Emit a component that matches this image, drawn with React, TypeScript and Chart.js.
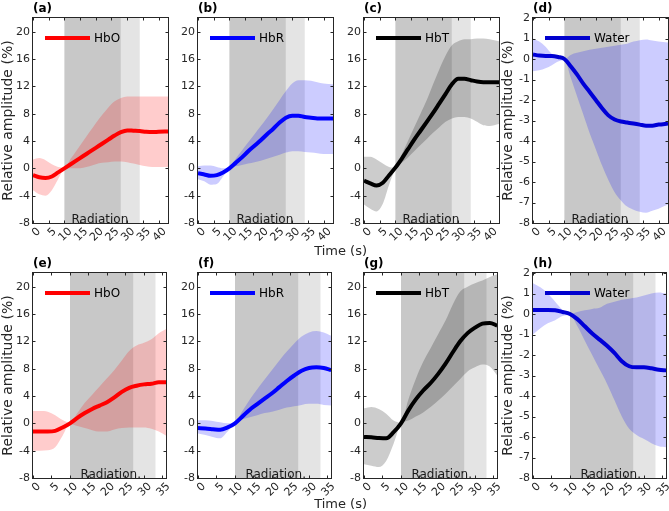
import { useEffect, useRef } from 'react';
import { Chart, registerables } from 'chart.js';

Chart.register(...registerables);

// ---- time axes (s) ----
const TIME_RUN1 = [0, 2, 4, 6, 8, 10, 12, 14, 16, 18, 20, 22, 24, 26, 28, 30, 32, 34, 36, 38, 40, 43];
const TIME_RUN2 = [0, 2, 4, 6, 8, 10, 12, 14, 16, 18, 20, 22, 24, 26, 28, 30, 32, 34, 36];

const X_TICKS_RUN1 = [0, 5, 10, 15, 20, 25, 30, 35, 40];
const X_TICKS_RUN2 = [0, 5, 10, 15, 20, 25, 30, 35];
const Y_TICKS_HB = [-8, -4, 0, 4, 8, 12, 16, 20];
const Y_TICKS_WATER = [-8, -7, -6, -5, -4, -3, -2, -1, 0, 1, 2];

// radiation on / post-radiation windows (s)
const RADIATION_RUN1 = [10, 28];
const POST_RUN1 = [28, 34];
const RADIATION_RUN2 = [10, 27.2];
const POST_RUN2 = [27.2, 33.1];

// ---- run 1 ----
const HBO1_MEAN = [-1.0, -1.3, -1.4, -1.2, -0.6, 0.0, 0.6, 1.2, 1.8, 2.4, 3.0, 3.6, 4.2, 4.8, 5.3, 5.55, 5.5, 5.45, 5.35, 5.3, 5.35, 5.4];
const HBO1_UPPER = [1.3, 1.5, 1.2, 0.6, 0.2, 0.1, 1.4, 2.7, 4.0, 5.3, 6.6, 7.8, 8.9, 9.8, 10.3, 10.5, 10.5, 10.5, 10.5, 10.5, 10.5, 10.5];
const HBO1_LOWER = [-3.2, -3.8, -4.0, -3.2, -1.6, -0.1, 0.0, 0.0, 0.1, 0.3, 0.6, 0.8, 0.9, 1.0, 1.0, 0.9, 0.7, 0.5, 0.3, 0.2, 0.2, 0.2];

const HBR1_MEAN = [-0.7, -0.9, -1.1, -1.0, -0.6, 0.0, 0.8, 1.6, 2.5, 3.3, 4.1, 5.0, 5.8, 6.7, 7.4, 7.7, 7.7, 7.5, 7.4, 7.3, 7.3, 7.3];
const HBR1_UPPER = [0.3, 0.4, 0.4, 0.2, 0.0, 0.1, 1.4, 2.6, 3.8, 5.0, 6.2, 7.4, 8.7, 10.0, 11.3, 12.4, 12.9, 12.9, 12.8, 12.6, 12.4, 12.3];
const HBR1_LOWER = [-1.6, -1.9, -2.4, -2.3, -1.2, 0.0, 0.3, 0.5, 0.7, 0.9, 1.1, 1.4, 1.7, 2.0, 2.3, 2.5, 2.5, 2.4, 2.3, 2.2, 2.1, 2.1];

const HBT1_MEAN = [-1.8, -2.2, -2.5, -2.1, -1.0, 0.1, 1.4, 2.8, 4.2, 5.5, 6.8, 8.1, 9.5, 10.9, 12.3, 13.1, 13.1, 12.9, 12.7, 12.6, 12.6, 12.6];
const HBT1_UPPER = [1.7, 1.7, 1.3, 0.7, 0.2, 0.1, 2.0, 4.0, 6.0, 8.0, 10.0, 12.3, 14.5, 16.5, 18.0, 18.6, 18.9, 18.9, 19.0, 19.0, 18.9, 18.6];
const HBT1_LOWER = [-5.3, -5.9, -6.3, -5.2, -2.4, -0.1, 0.8, 1.6, 2.5, 3.4, 4.3, 5.2, 6.0, 6.8, 7.3, 7.5, 7.5, 7.3, 6.8, 6.3, 6.2, 6.5];

const WATER1_MEAN = [0.22, 0.17, 0.15, 0.15, 0.1, 0.0, -0.35, -0.75, -1.2, -1.6, -2.0, -2.4, -2.75, -2.95, -3.05, -3.1, -3.15, -3.2, -3.25, -3.25, -3.2, -3.15];
const WATER1_UPPER = [1.0, 0.85, 0.6, 0.25, 0.05, 0.0, 0.2, 0.3, 0.38, 0.45, 0.5, 0.55, 0.6, 0.65, 0.7, 0.75, 0.85, 0.92, 0.95, 0.9, 0.85, 0.8];
const WATER1_LOWER = [-0.6, -0.55, -0.45, -0.3, -0.12, -0.05, -0.9, -1.8, -2.7, -3.6, -4.4, -5.2, -5.9, -6.5, -6.9, -7.2, -7.35, -7.45, -7.5, -7.4, -7.3, -7.1];

// ---- run 2 ----
const HBO2_MEAN = [-1.2, -1.2, -1.2, -1.1, -0.6, 0.0, 0.8, 1.5, 2.1, 2.6, 3.1, 3.8, 4.6, 5.2, 5.5, 5.7, 5.8, 6.0, 6.0];
const HBO2_UPPER = [1.8, 1.8, 1.7, 1.2, 0.5, 0.1, 1.5, 3.0, 4.2, 5.4, 6.6, 7.8, 9.2, 10.6, 11.4, 11.8, 12.3, 13.2, 13.8];
const HBO2_LOWER = [-4.0, -4.0, -3.95, -3.5, -1.8, -0.1, -0.4, -0.7, -1.0, -1.2, -1.2, -0.9, -0.7, -0.6, -0.6, -0.6, -0.8, -1.2, -1.8];

const HBR2_MEAN = [-0.7, -0.75, -0.85, -0.95, -0.6, 0.0, 1.0, 2.0, 2.8, 3.6, 4.4, 5.3, 6.2, 7.0, 7.7, 8.1, 8.2, 8.1, 7.8];
const HBR2_UPPER = [0.45, 0.45, 0.35, 0.15, 0.0, 0.1, 1.8, 3.5, 5.0, 6.4, 7.8, 9.2, 10.5, 11.7, 12.7, 13.3, 13.5, 13.3, 12.8];
const HBR2_LOWER = [-1.5, -1.7, -2.0, -2.2, -1.2, 0.0, 0.6, 0.9, 1.2, 1.5, 1.7, 2.0, 2.3, 2.5, 2.7, 2.85, 2.85, 2.7, 2.6];

const HBT2_MEAN = [-2.0, -2.05, -2.15, -2.2, -1.3, 0.0, 1.9, 3.5, 4.8, 5.9, 7.2, 8.7, 10.4, 12.0, 13.2, 14.0, 14.6, 14.7, 14.3];
const HBT2_UPPER = [2.2, 2.4, 2.1, 1.4, 0.4, 0.1, 3.5, 6.5, 9.0, 11.0, 13.0, 15.0, 17.4, 19.3, 20.0, 20.5, 20.9, 21.4, 21.8];
const HBT2_LOWER = [-6.0, -6.2, -6.4, -5.5, -3.0, -0.1, 0.4, 1.0, 1.6, 2.4, 3.3, 4.3, 5.4, 6.5, 7.6, 8.2, 8.6, 8.3, 7.0];

const WATER2_MEAN = [0.2, 0.2, 0.2, 0.18, 0.1, 0.0, -0.25, -0.6, -0.95, -1.25, -1.55, -1.9, -2.3, -2.55, -2.6, -2.6, -2.65, -2.72, -2.75];
const WATER2_UPPER = [1.5, 1.3, 1.0, 0.6, 0.2, 0.0, 0.1, 0.18, 0.25, 0.3, 0.5, 0.6, 0.7, 0.75, 0.8, 0.9, 1.0, 1.05, 1.0];
const WATER2_LOWER = [-1.0, -0.7, -0.45, -0.3, -0.1, -0.05, -0.6, -1.3, -2.0, -2.7, -3.4, -4.2, -5.0, -5.6, -5.9, -6.1, -6.3, -6.45, -6.5];

// ---- styling ----
const FONT = "'DejaVu Sans', sans-serif";
const AXIS_COLOR = '#262626';
const SHADE_ON = 'rgb(200,200,200)';
const SHADE_POST = 'rgb(228,228,228)';

const SERIES = {
  HbO: { line: 'rgb(255,0,0)', band: 'rgba(255,0,0,0.2)' },
  HbR: { line: 'rgb(0,0,255)', band: 'rgba(0,0,255,0.2)' },
  HbT: { line: 'rgb(0,0,0)', band: 'rgba(0,0,0,0.2)' },
  Water: { line: 'rgb(0,0,205)', band: 'rgba(0,0,255,0.2)' },
};

// plot-box geometry
const COL_LEFT = [33, 198, 364, 533];
const ROW_TOP = [18, 273];
const BOX_W = 135;
const BOX_H = 205;
const Y_AXIS_W = 33;
const X_AXIS_H = 32;
const PAD_TOP = 18;
const PAD_RIGHT = 6;

type PanelDef = {
  tag: string;
  name: keyof typeof SERIES;
  row: number;
  col: number;
  time: number[];
  mean: number[];
  upper: number[];
  lower: number[];
  xMax: number;
  xTicks: number[];
  yMin: number;
  yMax: number;
  yTicks: number[];
  radiation: number[];
  post: number[];
  radiationText: string;
  radiationX: number;
  yLabel: boolean;
};

const run1 = { row: 0, time: TIME_RUN1, xMax: 43, xTicks: X_TICKS_RUN1, radiation: RADIATION_RUN1, post: POST_RUN1, radiationText: 'Radiation', radiationX: 21.3 };
const run2 = { row: 1, time: TIME_RUN2, xMax: 36, xTicks: X_TICKS_RUN2, radiation: RADIATION_RUN2, post: POST_RUN2, radiationText: 'Radiation.', radiationX: 21.0 };
const hbAxis = { yMin: -8, yMax: 22, yTicks: Y_TICKS_HB };
const waterAxis = { yMin: -8, yMax: 2, yTicks: Y_TICKS_WATER };

const PANELS: PanelDef[] = [
  { ...run1, ...hbAxis, tag: '(a)', name: 'HbO', col: 0, mean: HBO1_MEAN, upper: HBO1_UPPER, lower: HBO1_LOWER, yLabel: true },
  { ...run1, ...hbAxis, tag: '(b)', name: 'HbR', col: 1, mean: HBR1_MEAN, upper: HBR1_UPPER, lower: HBR1_LOWER, yLabel: false },
  { ...run1, ...hbAxis, tag: '(c)', name: 'HbT', col: 2, mean: HBT1_MEAN, upper: HBT1_UPPER, lower: HBT1_LOWER, yLabel: false },
  { ...run1, ...waterAxis, tag: '(d)', name: 'Water', col: 3, mean: WATER1_MEAN, upper: WATER1_UPPER, lower: WATER1_LOWER, yLabel: true },
  { ...run2, ...hbAxis, tag: '(e)', name: 'HbO', col: 0, mean: HBO2_MEAN, upper: HBO2_UPPER, lower: HBO2_LOWER, yLabel: true },
  { ...run2, ...hbAxis, tag: '(f)', name: 'HbR', col: 1, mean: HBR2_MEAN, upper: HBR2_UPPER, lower: HBR2_LOWER, yLabel: false },
  { ...run2, ...hbAxis, tag: '(g)', name: 'HbT', col: 2, mean: HBT2_MEAN, upper: HBT2_UPPER, lower: HBT2_LOWER, yLabel: false },
  { ...run2, ...waterAxis, tag: '(h)', name: 'Water', col: 3, mean: WATER2_MEAN, upper: WATER2_UPPER, lower: WATER2_LOWER, yLabel: true },
];

const xy = (t: number[], v: number[]) => t.map((x, i) => ({ x, y: v[i] }));

// shaded windows, legend, in-box text, frame and inward ticks
const panelDecor = {
  id: 'panelDecor',
  beforeDatasetsDraw(chart: any, _args: any, opts: any) {
    const { ctx, chartArea } = chart;
    const x = chart.scales.x;
    ctx.save();
    const spans: [number[], string][] = [[opts.radiation, SHADE_ON], [opts.post, SHADE_POST]];
    for (const [span, color] of spans) {
      const x0 = x.getPixelForValue(span[0]);
      const x1 = x.getPixelForValue(span[1]);
      ctx.fillStyle = color;
      ctx.fillRect(x0, chartArea.top, x1 - x0, chartArea.bottom - chartArea.top);
    }
    ctx.restore();
  },
  afterDatasetsDraw(chart: any, _args: any, opts: any) {
    const { ctx, chartArea } = chart;
    const { left, top, right, bottom } = chartArea;
    const x = chart.scales.x;
    const y = chart.scales.y;
    ctx.save();

    // legend (no frame)
    const ly = top + 20;
    ctx.strokeStyle = opts.lineColor;
    ctx.lineWidth = 4;
    ctx.beginPath();
    ctx.moveTo(left + 12, ly);
    ctx.lineTo(left + 57, ly);
    ctx.stroke();
    ctx.fillStyle = '#000';
    ctx.font = `12px ${FONT}`;
    ctx.textAlign = 'left';
    ctx.textBaseline = 'middle';
    ctx.fillText(opts.name, left + 61, ly + 0.5);

    // radiation label on the floor of the box
    ctx.textAlign = 'center';
    ctx.textBaseline = 'alphabetic';
    ctx.fillStyle = '#1a1a1a';
    ctx.fillText(opts.radiationText, x.getPixelForValue(opts.radiationX), bottom - 0.5);

    // frame
    const L = Math.round(left) - 0.5;
    const R = Math.round(right) + 0.5;
    const T = Math.round(top) - 0.5;
    const B = Math.round(bottom) + 0.5;
    ctx.strokeStyle = AXIS_COLOR;
    ctx.lineWidth = 1;
    ctx.strokeRect(L, T, R - L, B - T);

    // inward ticks on all four sides
    const tl = 3;
    ctx.beginPath();
    for (const v of opts.xTicks) {
      const px = Math.round(x.getPixelForValue(v)) + 0.5;
      ctx.moveTo(px, B);
      ctx.lineTo(px, B - tl);
      ctx.moveTo(px, T);
      ctx.lineTo(px, T + tl);
    }
    for (const v of opts.yTicks) {
      const py = Math.round(y.getPixelForValue(v)) + 0.5;
      ctx.moveTo(L, py);
      ctx.lineTo(L + tl, py);
      ctx.moveTo(R, py);
      ctx.lineTo(R - tl, py);
    }
    ctx.stroke();

    // panel tag
    ctx.fillStyle = '#000';
    ctx.font = `bold 12px ${FONT}`;
    ctx.textAlign = 'left';
    ctx.textBaseline = 'alphabetic';
    ctx.fillText(opts.tag, left, top - 6);

    ctx.restore();
  },
};

const CANVAS_W = Y_AXIS_W + BOX_W + PAD_RIGHT;
const CANVAS_H = PAD_TOP + BOX_H + X_AXIS_H;

function Panel({ p }: { p: PanelDef }) {
  const ref = useRef<HTMLCanvasElement | null>(null);

  useEffect(() => {
    const style = SERIES[p.name];
    const tickFont = { family: FONT, size: 11 };
    const chart = new Chart(ref.current as HTMLCanvasElement, {
      type: 'line',
      data: {
        datasets: [
          {
            data: xy(p.time, p.upper),
            borderColor: 'rgba(0,0,0,0)',
            borderWidth: 0,
            backgroundColor: style.band,
            fill: '+1',
            pointRadius: 0,
            cubicInterpolationMode: 'monotone',
          },
          {
            data: xy(p.time, p.lower),
            borderColor: 'rgba(0,0,0,0)',
            borderWidth: 0,
            fill: false,
            pointRadius: 0,
            cubicInterpolationMode: 'monotone',
          },
          {
            data: xy(p.time, p.mean),
            borderColor: style.line,
            borderWidth: 4,
            fill: false,
            pointRadius: 0,
            cubicInterpolationMode: 'monotone',
          },
        ],
      },
      options: {
        responsive: false,
        animation: false,
        devicePixelRatio: 1,
        events: [],
        layout: { padding: { left: 0, top: PAD_TOP, right: PAD_RIGHT, bottom: 0 } },
        plugins: {
          legend: { display: false },
          tooltip: { enabled: false },
          title: { display: false },
          panelDecor: {
            tag: p.tag,
            name: p.name,
            lineColor: style.line,
            radiation: p.radiation,
            post: p.post,
            radiationText: p.radiationText,
            radiationX: p.radiationX,
            xTicks: p.xTicks,
            yTicks: p.yTicks,
          },
        } as any,
        scales: {
          x: {
            type: 'linear',
            min: 0,
            max: p.xMax,
            afterBuildTicks: (s: any) => {
              s.ticks = p.xTicks.map((value) => ({ value }));
            },
            afterFit: (s: any) => {
              s.height = X_AXIS_H;
            },
            grid: { display: false, drawTicks: false },
            border: { display: false },
            ticks: {
              autoSkip: false,
              minRotation: 45,
              maxRotation: 45,
              padding: 2,
              labelOffset: 6,
              color: AXIS_COLOR,
              font: tickFont,
              callback: (v: any) => String(v),
            },
          },
          y: {
            type: 'linear',
            min: p.yMin,
            max: p.yMax,
            afterBuildTicks: (s: any) => {
              s.ticks = p.yTicks.map((value) => ({ value }));
            },
            afterFit: (s: any) => {
              s.width = Y_AXIS_W;
            },
            grid: { display: false, drawTicks: false },
            border: { display: false },
            ticks: {
              padding: 3,
              color: AXIS_COLOR,
              font: tickFont,
              callback: (v: any) => String(v),
            },
            title: {
              display: p.yLabel,
              text: 'Relative amplitude (%)',
              color: AXIS_COLOR,
              font: { family: FONT, size: 14 },
              padding: { top: 0, bottom: 0 },
            },
          },
        },
      },
      plugins: [panelDecor],
    });
    return () => chart.destroy();
  }, [p]);

  const left = COL_LEFT[p.col] - Y_AXIS_W;
  const top = ROW_TOP[p.row] - PAD_TOP;
  return (
    <canvas
      ref={ref}
      width={CANVAS_W}
      height={CANVAS_H}
      style={{ position: 'absolute', left, top, width: CANVAS_W, height: CANVAS_H }}
    />
  );
}

const timeLabelStyle = (top: number): React.CSSProperties => ({
  position: 'absolute',
  left: 267,
  width: 100,
  top,
  textAlign: 'right',
  font: `13px ${FONT}`,
  lineHeight: '14px',
  color: AXIS_COLOR,
  whiteSpace: 'nowrap',
});

export default function App() {
  return (
    <div
      style={{
        position: 'absolute',
        left: 0,
        top: 0,
        width: 669,
        height: 511,
        overflow: 'hidden',
        background: '#fff',
      }}
    >
      {PANELS.map((p) => (
        <Panel key={p.tag} p={p} />
      ))}
      <div style={timeLabelStyle(244)}>Time (s)</div>
      <div style={timeLabelStyle(497)}>Time (s)</div>
    </div>
  );
}
